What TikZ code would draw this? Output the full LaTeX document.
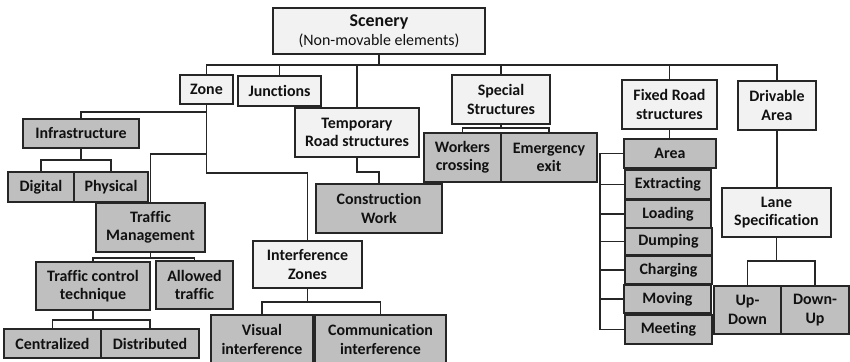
\documentclass[tikz,border=0pt]{standalone}
\usepackage{fontspec}
\setmainfont{Carlito}[Ligatures=NoCommon]
\definecolor{lightfill}{HTML}{F2F2F2}
\definecolor{darkfill}{HTML}{BFBFBF}
\definecolor{edge}{HTML}{262626}
\definecolor{ink}{HTML}{111111}
\newcommand\bx[7]{\node[#2, minimum width={(#5-#3)*1bp}, minimum height={(#6-#4)*1bp}] (#1) at ({(#3+#5)/2},{(#4+#6)/2}) {#7};}
\begin{document}
\begin{tikzpicture}[x=1bp,y=-1bp,
  base/.style={draw=edge, line width=1.2bp, inner sep=0pt, outer sep=0pt, align=center,
    text=ink, font=\fontsize{16}{18.5}\selectfont\bfseries},
  lbox/.style={base, fill=lightfill},
  dbox/.style={base, fill=darkfill},
  link/.style={draw=edge, line width=1.2bp}]
\useasboundingbox (0,0) rectangle (850,361);
% level 0
\bx{scen}{lbox}{273}{8}{485}{54}{{\fontsize{18}{21}\selectfont Scenery}\\[1pt]{\fontsize{16}{19}\selectfont\mdseries (Non-movable elements)}}
% level 1
\bx{zone}{lbox}{180}{75}{233}{104}{Zone}
\bx{junc}{lbox}{238}{76}{321}{106}{Junctions}
\bx{temp}{lbox}{295}{108}{419}{157}{Temporary\\Road structures}
\bx{spec}{lbox}{452}{75}{550}{124}{Special\\Structures}
\bx{fixd}{lbox}{622}{80}{717}{129}{Fixed Road\\structures}
\bx{driv}{lbox}{738}{81}{816}{130}{Drivable\\Area}
% zone subtree
\bx{infra}{dbox}{23}{119}{139}{148}{Infrastructure}
\bx{digi}{dbox}{8}{172}{74}{202}{Digital}
\bx{phys}{dbox}{74}{172}{148}{202}{Physical}
\bx{tm}{dbox}{96}{203}{205}{252}{Traffic\\Management}
\bx{tct}{dbox}{36}{262}{150}{310}{Traffic control\\technique}
\bx{allow}{dbox}{156}{261}{233}{309}{Allowed\\traffic}
\bx{cent}{dbox}{4}{329}{101}{358}{Centralized}
\bx{dist}{dbox}{101}{329}{199}{358}{Distributed}
\bx{iz}{lbox}{253}{241}{362}{288}{Interference\\Zones}
\bx{vis}{dbox}{211}{315}{313}{364}{Visual\\interference}
\bx{comm}{dbox}{315}{315}{446}{364}{Communication\\interference}
% temporary subtree
\bx{cw}{dbox}{316}{184}{442}{233}{Construction\\Work}
% special subtree
\bx{work}{dbox}{424}{133}{501}{182}{Workers\\crossing}
\bx{emer}{dbox}{501}{133}{597}{182}{Emergency\\exit}
% fixed subtree
\bx{area}{dbox}{624}{139}{716}{168}{Area}
\bx{extr}{dbox}{625}{170}{711}{199}{Extracting}
\bx{load}{dbox}{625}{200}{711}{228}{Loading}
\bx{dump}{dbox}{625}{228}{712}{255}{Dumping}
\bx{char}{dbox}{625}{256}{712}{284}{Charging}
\bx{move}{dbox}{624}{285}{711}{313}{Moving}
\bx{meet}{dbox}{625}{315}{712}{344}{Meeting}
% drivable subtree
\bx{lane}{lbox}{722}{188}{831}{237}{Lane\\Specification}
\bx{updn}{dbox}{714}{286}{781}{334}{Up-\\Down}
\bx{dnup}{dbox}{781}{286}{849}{334}{Down-\\Up}
% bus coordinates
\coordinate (b0) at (0,65);
\coordinate (bz) at (0,112);
\coordinate (btm) at (0,154);
\coordinate (biz) at (0,173);
\coordinate (binf) at (0,160);
\coordinate (btmc) at (0,258);
\coordinate (btct) at (0,320);
\coordinate (bizc) at (0,302);
\coordinate (btemp) at (0,172);
\coordinate (bspec) at (0,128);
\coordinate (blist) at (600,0);
\coordinate (blane) at (0,261);
% connectors level 0 -> 1
\draw[link] (scen.south) -- (scen.south |- b0);
\draw[link] (zone.north) |- (driv.north |- b0) -- (driv.north);
\draw[link] (junc.north) -- (junc.north |- b0);
\draw[link] (temp.north) -- (temp.north |- b0);
\draw[link] (spec.north) -- (spec.north |- b0);
\draw[link] (fixd.north) -- (fixd.north |- b0);
% zone subtree
\draw[link] (zone.south) |- (infra.north |- bz) -- (infra.north);
\draw[link] (zone.south) |- (iz.north |- biz) -- (iz.north);
\draw[link] (zone.south |- btm) -| (tm.north);
\draw[link] (infra.south) -- (infra.south |- binf);
\draw[link] (digi.north) |- (phys.north |- binf) -- (phys.north);
\draw[link] (tm.south) -- (tm.south |- btmc);
\draw[link] (tct.north) |- (allow.north |- btmc) -- (allow.north);
\draw[link] (tct.south) -- (tct.south |- btct);
\draw[link] (cent.north) |- (dist.north |- btct) -- (dist.north);
\draw[link] (iz.south) -- (iz.south |- bizc);
\draw[link] (vis.north) |- (comm.north |- bizc) -- (comm.north);
% temporary subtree
\draw[link] (temp.south) |- (cw.north |- btemp) -- (cw.north);
% special subtree
\draw[link] (spec.south) -- (spec.south |- bspec);
\draw[link] (work.north) |- (emer.north |- bspec) -- (emer.north);
% fixed subtree
\draw[link] (fixd.south) -- (area.north -| fixd.south);
\draw[link] (area.west) -- (blist |- area.west) -- (blist |- meet.west) -- (meet.west);
\foreach \n in {extr,load,dump,char,move}{\draw[link] (blist |- \n.west) -- (\n.west);}
% drivable subtree
\draw[link] (driv.south) -- (lane.north -| driv.south);
\draw[link] (lane.south) -- (lane.south |- blane);
\draw[link] (updn.north) |- (dnup.north |- blane) -- (dnup.north);
\end{tikzpicture}
\end{document}
